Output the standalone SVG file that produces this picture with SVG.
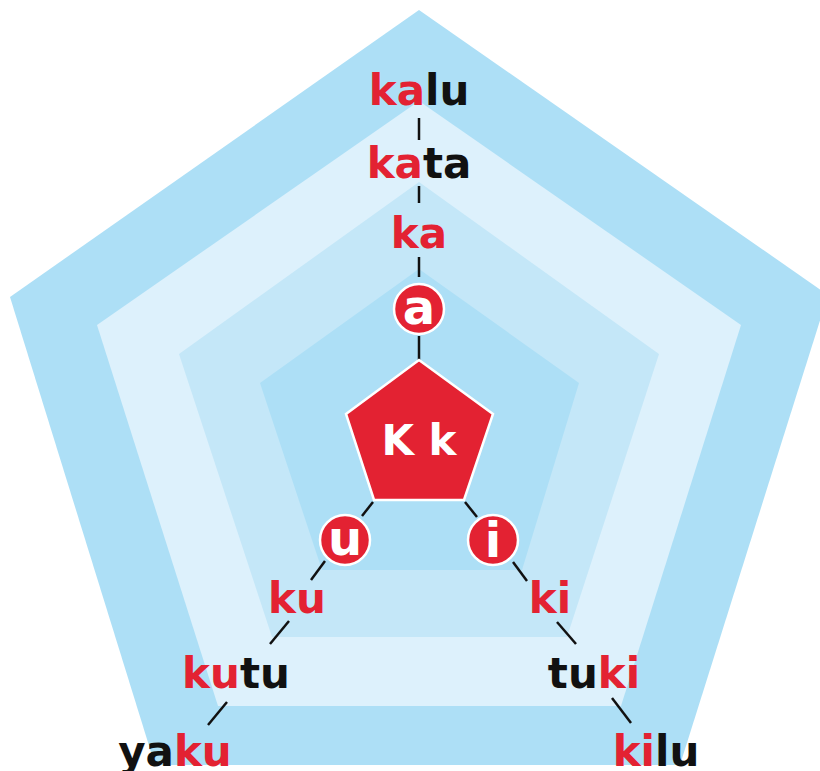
<svg xmlns="http://www.w3.org/2000/svg" width="820" height="771" viewBox="0 0 820 771">
<style>
text{font-family:"DejaVu Sans","Liberation Sans",sans-serif;font-weight:bold;text-anchor:middle}
.w{font-size:42px}
.r{fill:#e32232}
.b{fill:#111}
.c{fill:#e32232;stroke:#fff;stroke-width:2.5}
.cl{fill:#fff;font-size:48px}
.ln{stroke:#111;stroke-width:2.5;fill:none}
</style>
<rect width="820" height="771" fill="#fff"/>
<g id="background">
<polygon points="419,10 828,295 680,765 155,765 10,297" fill="#addff6"/>
<polygon points="419,101 741,325 621,706 218,706 97,325" fill="#ddf1fc"/>
<polygon points="419,182 659,354 567,637 272,637 179,354" fill="#c4e7f8"/>
<polygon points="419,269 579,383 522,570 322,570 260,383" fill="#addff6"/>
</g>
<g id="connectors">
<line class="ln" x1="419" y1="118" x2="419" y2="140"/>
<line class="ln" x1="419" y1="186" x2="419" y2="203"/>
<line class="ln" x1="419" y1="257" x2="419" y2="277"/>
<line class="ln" x1="419" y1="336" x2="419" y2="360"/>
<line class="ln" x1="373" y1="502" x2="362" y2="516"/>
<line class="ln" x1="325" y1="561" x2="311" y2="580"/>
<line class="ln" x1="289" y1="621" x2="270" y2="644"/>
<line class="ln" x1="227" y1="702" x2="208" y2="725"/>
<line class="ln" x1="465" y1="502" x2="477" y2="517"/>
<line class="ln" x1="513" y1="562" x2="527" y2="581"/>
<line class="ln" x1="557" y1="622" x2="576" y2="644"/>
<line class="ln" x1="612" y1="698" x2="631" y2="723"/>
</g>
<g id="center">
<polygon points="419,360 493,414 464,500 374,500 346,414" fill="#e32232" stroke="#fff" stroke-width="2.5" stroke-linejoin="miter"/>
<text x="419" y="455" fill="#fff" font-size="42">K k</text>
</g>
<g id="node-a">
<circle class="c" cx="419" cy="309" r="25"/>
<text class="cl" x="419" y="324">a</text>
</g>
<g id="node-u">
<circle class="c" cx="345" cy="540" r="25"/>
<text class="cl" x="345" y="555">u</text>
</g>
<g id="node-i">
<circle class="c" cx="493" cy="540" r="25"/>
<text class="cl" x="493" y="557">i</text>
</g>
<g id="word-kalu"><text class="w" x="419" y="105"><tspan class="r">ka</tspan><tspan class="b">lu</tspan></text></g>
<g id="word-kata"><text class="w" x="419" y="178"><tspan class="r">ka</tspan><tspan class="b">ta</tspan></text></g>
<g id="word-ka"><text class="w r" x="419" y="248">ka</text></g>
<g id="word-ku"><text class="w r" x="297" y="613">ku</text></g>
<g id="word-kutu"><text class="w" x="236" y="688"><tspan class="r">ku</tspan><tspan class="b">tu</tspan></text></g>
<g id="word-yaku"><text class="w" x="175" y="766"><tspan class="b">ya</tspan><tspan class="r">ku</tspan></text></g>
<g id="word-ki"><text class="w r" x="550" y="613">ki</text></g>
<g id="word-tuki"><text class="w" x="594" y="688"><tspan class="b">tu</tspan><tspan class="r">ki</tspan></text></g>
<g id="word-kilu"><text class="w" x="656" y="766"><tspan class="r">ki</tspan><tspan class="b">lu</tspan></text></g>
</svg>
